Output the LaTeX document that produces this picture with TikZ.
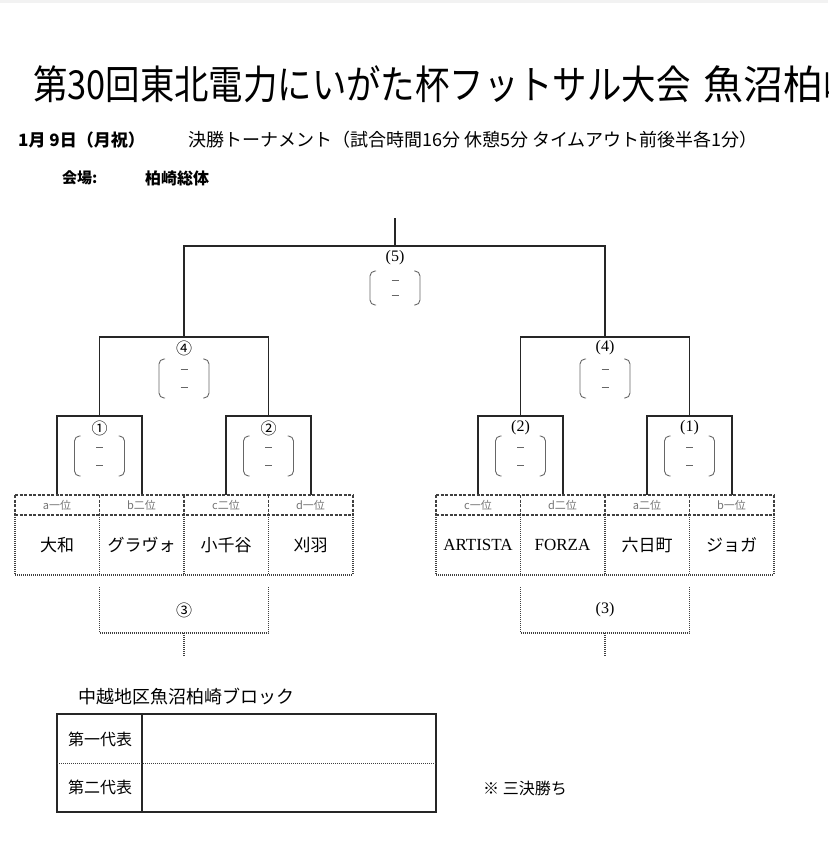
\documentclass[tikz,border=0pt]{standalone}
\usepackage{fontspec}
\setmainfont{Noto Sans CJK JP}
\newfontfamily\lat{Liberation Serif}
\newfontfamily\titlefont{Noto Sans CJK JP}[FakeStretch=0.86]
\def\scorebracket(#1,#2,#3){%
  \draw[parenline,rounded corners=5] (#1-19,#2) -- (#1-25,#2) -- (#1-25,#3) -- (#1-19,#3);
  \draw[parenline,rounded corners=5] (#1+19,#2) -- (#1+25,#2) -- (#1+25,#3) -- (#1+19,#3);
  \draw[parenline,line width=0.6pt] (#1-3.5,{#2+0.27*(#3-#2)}) -- (#1+3.5,{#2+0.27*(#3-#2)});
  \draw[parenline,line width=0.6pt] (#1-3.5,{#2+0.72*(#3-#2)}) -- (#1+3.5,{#2+0.72*(#3-#2)});
}

\begin{document}
\begin{tikzpicture}[x=1pt,y=-1pt,
  bracketline/.style={line width=1.3pt,color=black!85},
  hdrline/.style={line width=1.1pt,color=black!75,dash pattern=on 3pt off 1.5pt},
  dotline/.style={line width=1.1pt,color=black!75,dash pattern=on 1pt off 1pt},
  parenline/.style={line width=0.9pt,color=black!60},
  numlabel/.style={inner sep=0,font=\fontsize{16}{16}\selectfont},
  latnum/.style={inner sep=0,font=\lat\fontsize{16}{16}\selectfont},
  hdrlabel/.style={inner sep=0,color=black!55,font=\fontsize{11}{11}\selectfont},
  teamlabel/.style={inner sep=0,font=\fontsize{17}{17}\selectfont},
  plaintext/.style={anchor=west,inner sep=0}]

%%%%% START %%%%%
\clip (0,0) rectangle (828,846);
\fill[black!5] (0,0) rectangle (828,3);

\node[plaintext,font=\titlefont\fontsize{40}{40}\selectfont] (title) at (33,84) {第30回東北電力にいがた杯フットサル大会};
\node[plaintext,font=\fontsize{40}{40}\selectfont] (titleplace) at (703,84) {魚沼柏崎};
\node[plaintext,font=\bfseries\fontsize{17}{17}\selectfont] (date) at (18,140) {1月 9日（月祝）};
\node[plaintext,font=\fontsize{18}{18}\selectfont] (rules) at (188,140) {決勝トーナメント（試合時間16分 休憩5分 タイムアウト前後半各1分）};
\node[plaintext,font=\bfseries\fontsize{15}{15}\selectfont] (venuekey) at (62,178) {会場:};
\node[plaintext,font=\bfseries\fontsize{16}{16}\selectfont] (venue) at (145,178) {柏崎総体};

% final and semi finals
\draw[bracketline] (395,218) -- (395,246);
\draw[bracketline] (184,337) -- (184,246) -- (605,246) -- (605,337);
\draw[bracketline] (99.5,416) -- (99.5,337) -- (268.5,337) -- (268.5,416);
\draw[bracketline] (520.5,416) -- (520.5,337) -- (689.5,337) -- (689.5,416);

% first round
\draw[bracketline] (57,495) -- (57,416) -- (142,416) -- (142,495);
\draw[bracketline] (226,495) -- (226,416) -- (311,416) -- (311,495);
\draw[bracketline] (478,495) -- (478,416) -- (563,416) -- (563,495);
\draw[bracketline] (647,495) -- (647,416) -- (732,416) -- (732,495);

\node[latnum] (final) at (395,258) {(5)};
\scorebracket(395,271,305)
\node[numlabel] (semiL) at (184,348) {④};
\scorebracket(184,359,398)
\node[latnum] (semiR) at (605,348) {(4)};
\scorebracket(605,359,398)

\node[numlabel] (roundL1) at (99.5,428) {①};
\scorebracket(99.5,436,476)
\node[numlabel] (roundL2) at (268.5,428) {②};
\scorebracket(268.5,436,476)
\node[latnum] (roundR2) at (520.5,428) {(2)};
\scorebracket(520.5,436,476)
\node[latnum] (roundR1) at (689.5,428) {(1)};
\scorebracket(689.5,436,476)

% team tables
\foreach \ox in {0,421}{
  \draw[hdrline] (15+\ox,495) -- (353+\ox,495);
  \draw[hdrline] (15+\ox,515) -- (353+\ox,515);
  \draw[dotline] (15+\ox,575) -- (353+\ox,575);
  \foreach \c in {0,1,2,3,4}{
    \draw[hdrline] (15+\ox+84.5*\c,495) -- (15+\ox+84.5*\c,515);
    \draw[dotline] (15+\ox+84.5*\c,515) -- (15+\ox+84.5*\c,575);
  }
  \draw[dotline] (99.5+\ox,587) -- (99.5+\ox,633) -- (268.5+\ox,633) -- (268.5+\ox,587);
  \draw[dotline] (184+\ox,633) -- (184+\ox,657);
}

\foreach \lab/\team [count=\i from 0] in {a一位/大和, b二位/グラヴォ, c二位/小千谷, d一位/刈羽}{
  \node[hdrlabel] (hdrL\i) at (57+84.5*\i,505) {\lab};
  \node[teamlabel] (teamL\i) at (57+84.5*\i,545) {\team};
}
\foreach \lab/\team [count=\i from 0] in {c一位/{\lat ARTISTA}, d二位/{\lat FORZA}, a二位/六日町, b一位/ジョガ}{
  \node[hdrlabel] (hdrR\i) at (478+84.5*\i,505) {\lab};
  \node[teamlabel] (teamR\i) at (478+84.5*\i,545) {\team};
}

\node[numlabel] (thirdL) at (184,610) {③};
\node[latnum] (thirdR) at (605,610) {(3)};

% block representatives
\node[plaintext,font=\fontsize{18}{18}\selectfont] (block) at (78,697) {中越地区魚沼柏崎ブロック};
\draw[line width=1.2pt,black!85] (57,714) rectangle (436,812);
\draw[line width=1.2pt,black!85] (142,714) -- (142,812);
\draw[dotline,line width=0.8pt] (57,763) -- (436,763);
\node[plaintext,font=\fontsize{16}{16}\selectfont] (first) at (68,739) {第一代表};
\node[plaintext,font=\fontsize{16}{16}\selectfont] (second) at (68,787) {第二代表};
\node[plaintext,font=\fontsize{16}{16}\selectfont] (note) at (483,788) {※ 三決勝ち};

%%%%% END %%%%%
\end{tikzpicture}
\end{document}
